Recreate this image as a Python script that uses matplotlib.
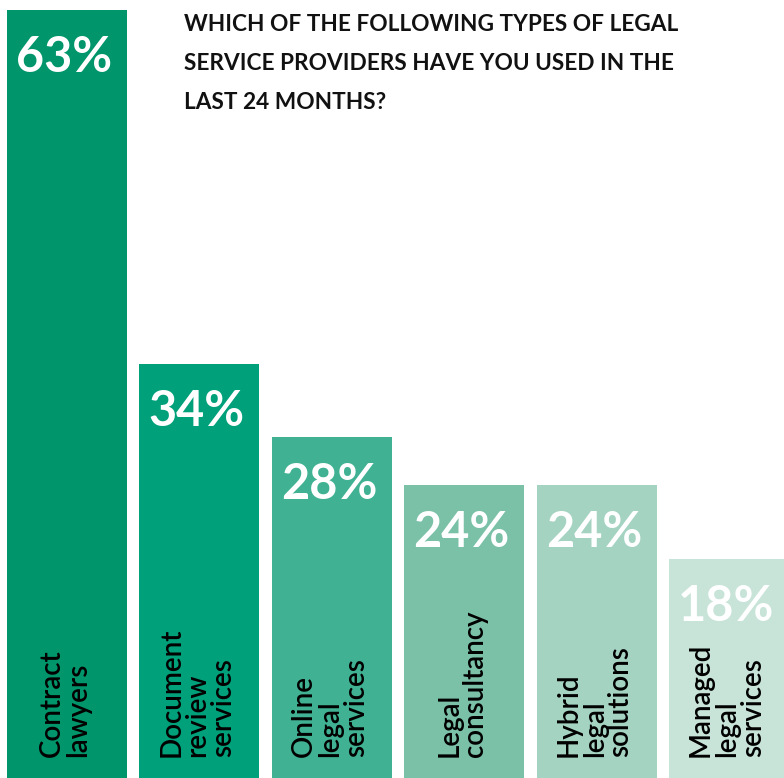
import matplotlib.pyplot as plt

# survey results
categories = ['Contract\nlawyers', 'Document\nreview\nservices', 'Online\nlegal\nservices',
              'Legal\nconsultancy', 'Hybrid\nlegal\nsolutions', 'Managed\nlegal\nservices']
values = [63, 34, 28, 24, 24, 18]
colors = ['#00956A', '#00A07A', '#40B293', '#7AC1A8', '#A5D3C2', '#C8E3D8']
title = 'WHICH OF THE FOLLOWING TYPES OF LEGAL\nSERVICE PROVIDERS HAVE YOU USED IN THE\nLAST 24 MONTHS?'

plt.rcParams['font.family'] = ['Lato', 'DejaVu Sans']

fig = plt.figure(figsize=(7.84, 7.78), dpi=100)
ax = fig.add_axes([0, 0, 1, 1])

width = 0.906
x = list(range(len(values)))
ax.bar(x, values, width=width, color=colors, align='center')

ax.set_xlim(-0.506, 5.415)
ax.set_ylim(0, 63.82)
ax.axis('off')

for i, v in enumerate(values):
    left = i - width / 2
    # percentage label near the top of each bar
    ax.annotate(f'{v}%', xy=(left, v), xytext=(9, -25), textcoords='offset pixels',
                ha='left', va='top', color='white', fontsize=35, fontweight='bold')
    # rotated category name, centred in the bar, starting near the bottom
    ax.annotate(categories[i], xy=(i, 0), xytext=(-2, 21), textcoords='offset pixels',
                rotation=90, ha='center', va='bottom',
                multialignment='left', linespacing=1.0,
                color='black', fontsize=20, fontweight='semibold')

fig.text(184 / 784, 1 - 14 / 778, title, ha='left', va='top', fontsize=16.3,
         fontweight='bold', color='#111111', linespacing=2.07)

fig.savefig('out.png', dpi=100)
